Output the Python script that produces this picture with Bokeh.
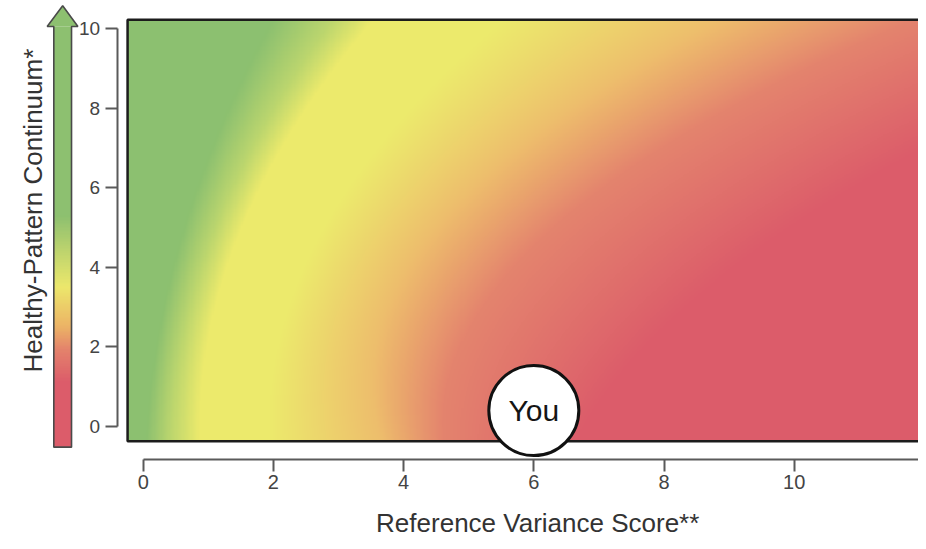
import numpy as np
from bokeh.plotting import figure
from bokeh.models import Label, FixedTicker
from bokeh.core.properties import value
from bokeh.embed import file_html
from bokeh.resources import INLINE

# ---------------- data ----------------
X_TICKS = [0, 2, 4, 6, 8, 10, 12]
Y_TICKS = [0, 2, 4, 6, 8, 10]
X_TITLE = "Reference Variance Score**"
Y_TITLE = "Healthy-Pattern Continuum*"

YOU_X = [6]
YOU_Y = [0.4]
YOU_TEXT = ["You"]

# heat-map colour stops: green, green-yellow, yellow, yellow, orange, salmon, red
STOP_COLORS = [(140, 192, 112), (188, 214, 110), (236, 234, 108), (236, 234, 108),
               (238, 190, 108), (228, 132, 110), (220, 92, 106)]
# x position of each stop read at three heights of the field
STOP_ROWS_Y = [0, 5, 10]
STOPS_AT_Y0 = [0.05, 0.42, 0.85, 1.95, 3.6, 4.6, 6.8]
STOPS_AT_Y5 = [0.62, 1.10, 1.50, 2.80, 4.5, 6.3, 10.0]
STOPS_AT_Y10 = [1.90, 2.80, 3.40, 5.40, 8.6, 11.5, 16.0]

# arrow (left) colour stops along y
ARROW_STOP_Y = [-0.52, 1.1, 1.9, 2.5, 3.5, 4.4, 5.3, 10.1]
ARROW_STOP_COLORS = [(220, 92, 106), (220, 92, 106), (228, 130, 108), (236, 180, 102),
                     (236, 232, 108), (190, 212, 110), (141, 192, 112), (141, 192, 112)]

# ---------------- figure ----------------
X_RANGE = (-2.192, 11.909)
Y_RANGE = (-2.892, 10.712)

p = figure(width=918, height=541, x_range=X_RANGE, y_range=Y_RANGE,
           output_backend="svg", toolbar_location=None,
           min_border=0, min_border_left=0, min_border_right=0,
           min_border_top=0, min_border_bottom=0)
p.outline_line_color = None
p.grid.visible = False
p.background_fill_color = "white"
p.border_fill_color = "white"

# heat field
fx0, fx1 = -0.24, 12.2
fy0, fy1 = -0.37, 10.23
nx, ny = 700, 320
xs = np.linspace(fx0, fx1, nx)
ys = np.linspace(fy0, fy1, ny)
pos = np.array([STOPS_AT_Y0, STOPS_AT_Y5, STOPS_AT_Y10], dtype=float)
coef = np.polyfit(np.array(STOP_ROWS_Y, dtype=float), pos, 2)
cols = np.array(STOP_COLORS, dtype=float)
img = np.zeros((ny, nx, 4), dtype=np.uint8)
for j, yv in enumerate(ys):
    sp = coef[0] * yv ** 2 + coef[1] * yv + coef[2]
    for c in range(3):
        img[j, :, c] = np.clip(np.interp(xs, sp, cols[:, c]), 0, 255).astype(np.uint8)
    img[j, :, 3] = 255
rgba = img.view(dtype=np.uint32).reshape((ny, nx))
p.image_rgba(image=[rgba], x=fx0, y=fy0, dw=fx1 - fx0, dh=fy1 - fy0)
p.quad(left=fx0, right=13.0, bottom=fy0, top=fy1, fill_color=None,
       line_color="#1c1c1c", line_width=2.5)

# arrow
ax0, ax1 = -1.373, -1.101
ay0, ay1 = -0.52, 10.06
any_ = 300
ays = np.linspace(ay0, ay1, any_)
acol = np.array(ARROW_STOP_COLORS, dtype=float)
aimg = np.zeros((any_, 4, 4), dtype=np.uint8)
for c in range(3):
    v = np.clip(np.interp(ays, ARROW_STOP_Y, acol[:, c]), 0, 255).astype(np.uint8)
    aimg[:, :, c] = v[:, None]
aimg[:, :, 3] = 255
argba = aimg.view(dtype=np.uint32).reshape((any_, 4))
p.image_rgba(image=[argba], x=ax0, y=ay0, dw=ax1 - ax0, dh=ay1 - ay0)
hx = [-1.475, -1.237, -1.003]
hy = [ay1, 10.58, ay1]
p.patch(hx, hy, fill_color="#8dc070", line_color=None)
p.patch([ax0, ax1, ax1, hx[2], hx[1], hx[0], ax0],
        [ay0, ay0, ay1, ay1, hy[1], ay1, ay1],
        fill_color=None, line_color="#4a4a4a", line_width=1.6)

# "You" marker
p.scatter(x=YOU_X, y=YOU_Y, size=90, fill_color="white", line_color="#111111", line_width=3)
p.text(x=YOU_X, y=YOU_Y, text=YOU_TEXT, text_align="center", text_baseline="middle",
       text_font=value("Liberation Sans"), text_font_size="30px", text_color="#151515")

# axes
AXIS_COLOR = "#5a5a5a"
xa = p.xaxis[0]
xa.fixed_location = -0.82
xa.bounds = (0, 13)
xa.ticker = FixedTicker(ticks=X_TICKS)
xa.axis_line_color = AXIS_COLOR
xa.axis_line_width = 2
xa.major_tick_line_color = AXIS_COLOR
xa.major_tick_line_width = 2
xa.major_tick_out = 12
xa.major_tick_in = 0
xa.minor_tick_line_color = None
xa.major_label_standoff = 4
xa.major_label_text_font = "Liberation Sans"
xa.major_label_text_font_size = "20px"
xa.major_label_text_color = "#444444"

ya = p.yaxis[0]
ya.fixed_location = -0.40
ya.bounds = (0, 10)
ya.ticker = FixedTicker(ticks=Y_TICKS)
ya.axis_line_color = AXIS_COLOR
ya.axis_line_width = 2
ya.major_tick_line_color = AXIS_COLOR
ya.major_tick_line_width = 2
ya.major_tick_out = 12
ya.major_tick_in = 0
ya.minor_tick_line_color = None
ya.major_label_standoff = 5
ya.major_label_text_font = "Liberation Sans"
ya.major_label_text_font_size = "19px"
ya.major_label_text_color = "#444444"

# titles
p.add_layout(Label(x=6.06, y=-2.43, text=X_TITLE, text_align="center", text_baseline="middle",
                   text_font="Liberation Sans", text_font_size="26px", text_color="#333333"))
p.add_layout(Label(x=-1.69, y=5.43, text=Y_TITLE, angle=np.pi / 2, text_align="center",
                   text_baseline="middle", text_font="Liberation Sans", text_font_size="26px",
                   text_color="#333333"))

open("out.html", "w").write(file_html(p, INLINE))
